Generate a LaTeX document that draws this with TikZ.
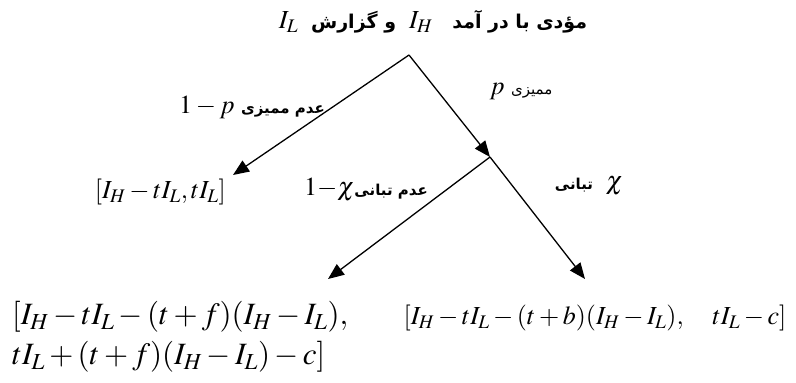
\documentclass[tikz,border=0pt]{standalone}
\usepackage{mathptmx}
\usepackage{fontspec}
\setmainfont{Liberation Serif}
\newfontfamily\fa[Script=Arabic]{DejaVu Sans}
\TeXXeTstate=1
\usetikzlibrary{arrows.meta}
\newcommand{\fatxt}[1]{{\fa\beginR #1\endR}}

\begin{document}
\begin{tikzpicture}[x=1pt, y=-1pt,
  font=\fontsize{26}{40}\selectfont,
  lbl/.style={inner sep=0pt, anchor=center},
  leaf/.style={inner sep=0pt, align=left},
  big/.style={font=\fontsize{31}{40}\selectfont},
  arr/.style={-{Triangle[length=16pt,width=13pt]}, line width=1.3pt},
]
\useasboundingbox (0,0) rectangle (796,383);

% tree points
\coordinate (apex) at (409,55);
\coordinate (mid) at (490,157);
\coordinate (tipA) at (233,175);
\coordinate (tipB) at (328,279);
\coordinate (tipC) at (585,279);

% title
\node[lbl] (title) at (433,22)
  {$I_L$\ \ {\fontsize{19}{22}\selectfont\bfseries\fatxt{و گزارش}}\ \ $I_H$\ \ \ {\fontsize{19}{22}\selectfont\bfseries\fatxt{مؤدی با در آمد}}};

% branch labels
\node[lbl] (noaudit) at (252,107) {$1-p$\ {\fontsize{15}{18}\selectfont\bfseries\fatxt{عدم ممیزی}}};
\node[lbl] (audit) at (521,92) {$p$\ {\fontsize{15}{18}\selectfont\fatxt{ممیزی}}};
\node[lbl] (nocollude) at (366,190) {$1{-}\chi${\fontsize{15}{18}\selectfont\bfseries\fatxt{عدم تبانی}}};
\node[lbl] (collude) at (589,186) {{\fontsize{15}{18}\selectfont\bfseries\fatxt{تبانی}}\ \ $\chi$};

% payoffs
\node[leaf, anchor=east] (leafA) at (226,192) {$[I_H-tI_L,tI_L]$};
\node[leaf, big, anchor=west] (leafB) at (12,337)
  {$[I_H-tI_L-(t+f)(I_H-I_L),$\\ $tI_L+(t+f)(I_H-I_L)-c]$};
\node[leaf] (leafC) at (595,318) {$[I_H-tI_L-(t+b)(I_H-I_L),\quad tI_L-c]$};

% edges
\draw[arr] (apex) -- (tipA);
\draw[arr] (apex) -- (mid);
\draw[arr] (mid) -- (tipB);
\draw[arr] (mid) -- (tipC);
\end{tikzpicture}
\end{document}
